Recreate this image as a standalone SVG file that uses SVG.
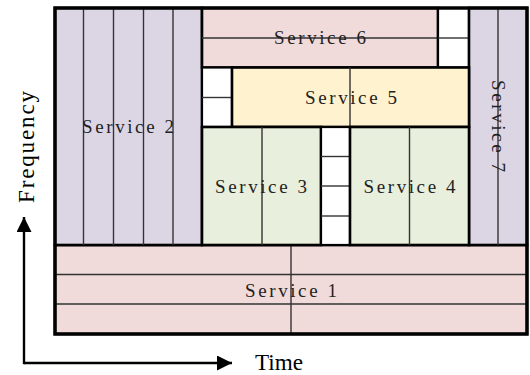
<svg xmlns="http://www.w3.org/2000/svg" width="530" height="375" viewBox="0 0 530 375">
  <defs>
    <style>
      .blk { stroke: #000; stroke-width: 2.6; }
      .s-purple { fill: #DCD6E4; }
      .s-pink { fill: #F0DBDA; }
      .s-yellow { fill: #FFF2CE; }
      .s-green { fill: #E8EFDC; }
      .gap { fill: #FFFFFF; stroke: #000; stroke-width: 2.2; }
      .div { stroke: #333; stroke-width: 1.4; fill: none; }
      .lbl { font-family: "Liberation Serif", "DejaVu Serif", serif; font-size: 19px; fill: #222; text-anchor: middle; }
      .ax { font-family: "Liberation Serif", "DejaVu Serif", serif; font-size: 23px; fill: #000; }
      .axis { stroke: #000; stroke-width: 2.4; fill: none; }
    </style>
    <marker id="arrow" viewBox="0 0 10 10" refX="10" refY="5" markerWidth="15" markerHeight="15" markerUnits="userSpaceOnUse" orient="auto">
      <path d="M0,0 L10,5 L0,10 Z" fill="#000"/>
    </marker>
  </defs>

  <!-- Service 1: bottom band spanning the full time range -->
  <g id="service1">
    <rect class="blk s-pink" x="55" y="245" width="472" height="89"/>
    <line class="div" x1="55" y1="274.5" x2="527" y2="274.5"/>
    <line class="div" x1="55" y1="304" x2="527" y2="304"/>
    <line class="div" x1="291" y1="245" x2="291" y2="334"/>
    <text class="lbl" x="291" y="297" textLength="92" lengthAdjust="spacing">Service 1</text>
  </g>

  <!-- Service 2: left tall block -->
  <g id="service2">
    <rect class="blk s-purple" x="55" y="8" width="147" height="237"/>
    <line class="div" x1="83.5" y1="8" x2="83.5" y2="245"/>
    <line class="div" x1="113.5" y1="8" x2="113.5" y2="245"/>
    <line class="div" x1="143.5" y1="8" x2="143.5" y2="245"/>
    <line class="div" x1="173" y1="8" x2="173" y2="245"/>
    <text class="lbl" x="128" y="133" textLength="92" lengthAdjust="spacing">Service 2</text>
  </g>

  <!-- Service 6: top band -->
  <g id="service6">
    <rect class="blk s-pink" x="202" y="8" width="236" height="59.5"/>
    <line class="div" x1="202" y1="38" x2="438" y2="38"/>
    <text class="lbl" x="320" y="44" textLength="92" lengthAdjust="spacing">Service 6</text>
  </g>

  <!-- unused slots next to Service 6 -->
  <g id="gap-top">
    <rect class="gap" x="438" y="8" width="31" height="59.5"/>
    <line class="div" x1="438" y1="38" x2="469" y2="38"/>
  </g>

  <!-- Service 7: right tall block, label running downwards -->
  <g id="service7">
    <rect class="blk s-purple" x="469" y="8" width="58" height="237"/>
    <line class="div" x1="498" y1="8" x2="498" y2="245"/>
    <text class="lbl" transform="translate(492,126) rotate(90)" x="0" y="0" textLength="92" lengthAdjust="spacing">Service 7</text>
  </g>

  <!-- unused slots left of Service 5 -->
  <g id="gap-left">
    <rect class="gap" x="202" y="67.5" width="30" height="59.5"/>
    <line class="div" x1="202" y1="97.5" x2="232" y2="97.5"/>
  </g>

  <!-- Service 5 -->
  <g id="service5">
    <rect class="blk s-yellow" x="232" y="67.5" width="237" height="59.5"/>
    <line class="div" x1="350" y1="67.5" x2="350" y2="127"/>
    <text class="lbl" x="351" y="103.5" textLength="92" lengthAdjust="spacing">Service 5</text>
  </g>

  <!-- Service 3 -->
  <g id="service3">
    <rect class="blk s-green" x="202" y="127" width="119" height="118"/>
    <line class="div" x1="262" y1="127" x2="262" y2="245"/>
    <text class="lbl" x="261" y="192.5" textLength="92" lengthAdjust="spacing">Service 3</text>
  </g>

  <!-- unused slots between Service 3 and Service 4 -->
  <g id="gap-mid">
    <rect class="gap" x="321" y="127" width="29" height="118"/>
    <line class="div" x1="321" y1="156.5" x2="350" y2="156.5"/>
    <line class="div" x1="321" y1="186" x2="350" y2="186"/>
    <line class="div" x1="321" y1="216" x2="350" y2="216"/>
  </g>

  <!-- Service 4 -->
  <g id="service4">
    <rect class="blk s-green" x="350" y="127" width="119" height="118"/>
    <line class="div" x1="409.5" y1="127" x2="409.5" y2="245"/>
    <text class="lbl" x="409.5" y="192.5" textLength="92" lengthAdjust="spacing">Service 4</text>
  </g>

  <!-- outer frame -->
  <g id="frame">
    <rect x="55" y="8" width="472" height="326" fill="none" stroke="#000" stroke-width="3.4"/>
  </g>

  <!-- frequency / time axes -->
  <g id="connectors">
    <path class="axis" d="M24,363 L232,363" marker-end="url(#arrow)"/>
    <path class="axis" d="M24,364.2 L24,217" marker-end="url(#arrow)"/>
  </g>

  <g id="labels">
    <text class="ax" x="255" y="370" textLength="48" lengthAdjust="spacingAndGlyphs">Time</text>
    <text class="ax" transform="translate(34,203) rotate(-90)" x="0" y="0" textLength="112" lengthAdjust="spacing">Frequency</text>
  </g>
</svg>
